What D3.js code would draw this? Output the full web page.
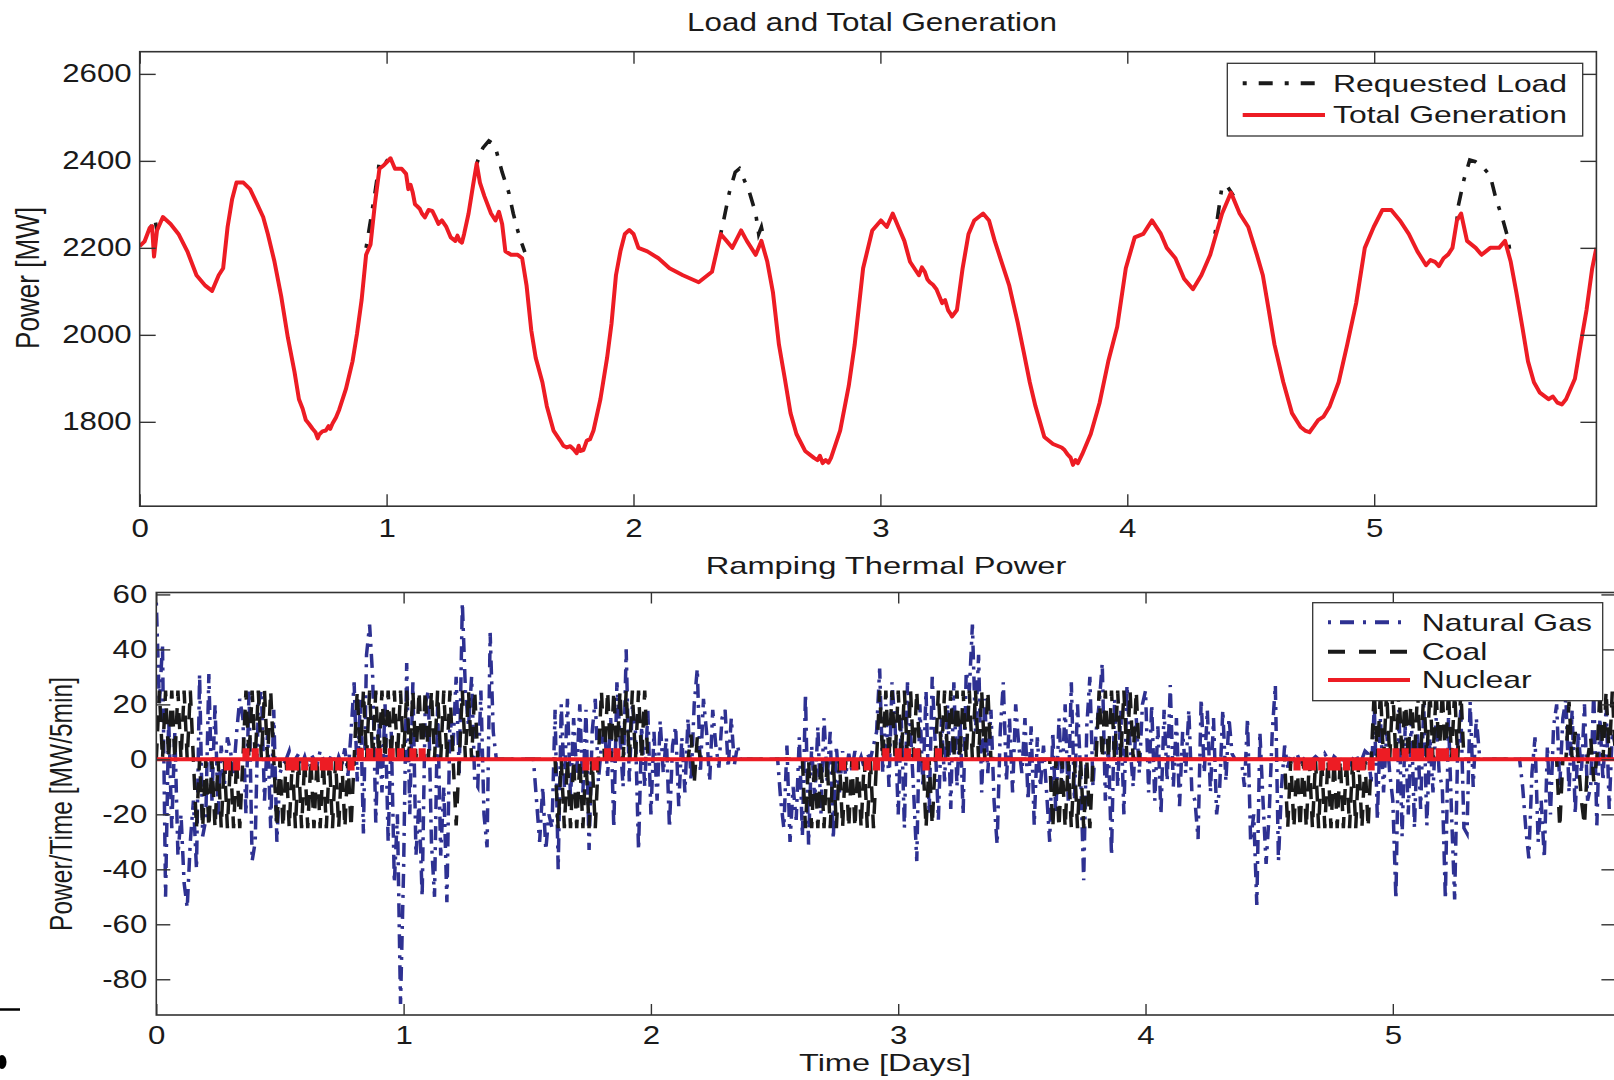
<!DOCTYPE html>
<html>
<head>
<meta charset="utf-8">
<script src="https://cdn.jsdelivr.net/npm/d3@7"></script>
<style>
  body { margin: 0; background: #fff; }
  svg { display: block; font-family: "Liberation Sans", Arial, sans-serif; }
</style>
</head>
<body>
<svg id="chart" width="1614" height="1080"></svg>
<script>
// ---------- data: load and total generation (days, MW) ----------
const loadDays = [0,0.02,0.04,0.05,0.058,0.07,0.094,0.125,0.157,0.193,
  0.23,0.266,0.293,0.32,0.338,0.356,0.374,0.392,0.42,0.447,
  0.474,0.5,0.519,0.546,0.573,0.6,0.627,0.645,0.673,0.7,
  0.727,0.754,0.781,0.808,0.835,0.862,0.88,0.899,0.917,0.935,
  0.953,0.971,0.989,1.016,1.034,1.061,1.079,1.088,1.106,1.125,
  1.143,1.17,1.197,1.224,1.242,1.26,1.278,1.296,1.314,1.332,
  1.35,1.365,1.378,1.396,1.423,1.441,1.455,1.468,1.481,1.504,
  1.531,1.549,1.567,1.586,1.604,1.631,1.649,1.676,1.703,1.73,
  1.757,1.784,1.811,1.838,1.866,1.893,1.911,1.929,1.947,1.965,
  1.983,2.0,2.02,2.056,2.101,2.146,2.2,2.264,2.318,2.353,
  2.377,2.4,2.436,2.459,2.495,2.518,2.542,2.565,2.589,2.613,
  2.636,2.66,2.695,2.731,2.766,2.8,2.837,2.872,2.896,2.93,
  2.967,3.002,3.026,3.05,3.073,3.097,3.12,3.156,3.18,3.2,
  3.227,3.25,3.274,3.29,3.31,3.333,3.357,3.38,3.416,3.44,
  3.463,3.486,3.522,3.557,3.58,3.605,3.628,3.664,3.699,3.734,
  3.758,3.78,3.817,3.852,3.888,3.923,3.959,3.994,4.03,4.065,
  4.1,4.136,4.16,4.195,4.23,4.266,4.3,4.336,4.36,4.384,
  4.42,4.455,4.49,4.525,4.549,4.573,4.596,4.632,4.667,4.702,
  4.738,4.773,4.82,4.856,4.891,4.927,4.962,4.998,5.033,5.069,
  5.104,5.14,5.175,5.21,5.246,5.281,5.317,5.335,5.352,5.376,
  5.411,5.435,5.47,5.506,5.53,5.553,5.576,5.6,5.623,5.647,
  5.671,5.706,5.742,5.777,5.813,5.836,5.86,5.883,5.9];

const totalGeneration = [2204,2215,2245,2250,2180,2240,2271,2255,2232,2192,
  2137,2113,2101,2137,2153,2248,2311,2350,2350,2335,
  2303,2271,2232,2168,2089,1994,1915,1852,1804,1784,
  1771,1780,1796,1828,1875,1939,2002,2081,2184,2208,
  2303,2382,2390,2406,2382,2382,2370,2335,2327,2295,
  2279,2287,2271,2263,2248,2224,2216,2216,2232,2279,
  2343,2394,2350,2319,2279,2263,2283,2255,2192,2184,
  2184,2176,2113,2010,1947,1891,1836,1780,1757,1741,
  1737,1733,1757,1780,1852,1947,2026,2137,2192,2232,
  2241,2232,2200,2192,2176,2153,2137,2121,2145,2232,
  2216,2200,2240,2216,2184,2216,2168,2097,1978,1899,
  1820,1772,1733,1717,1705,1717,1780,1883,1978,2153,
  2240,2263,2248,2279,2248,2216,2168,2137,2145,2121,
  2105,2073,2057,2042,2057,2153,2232,2263,2279,2263,
  2216,2176,2113,2026,1962,1891,1836,1765,1749,1741,
  1725,1701,1725,1772,1844,1939,2018,2153,2224,2232,
  2263,2232,2200,2176,2129,2105,2137,2184,2232,2279,
  2327,2279,2248,2184,2137,2057,1978,1891,1820,1788,
  1776,1804,1836,1891,1978,2073,2200,2248,2287,2287,
  2263,2232,2192,2160,2168,2176,2200,2263,2279,2216,
  2200,2184,2200,2200,2216,2168,2097,2018,1939,1891,
  1867,1852,1844,1852,1899,1978,2057,2153,2200];

// extra readings where the generation curve is ragged (merged in by day)
const wiggleDays = [0.66,0.686,0.712,0.721,0.74,0.765,0.772,0.795,
  1.097,1.115,1.134,1.155,1.185,1.21,1.287,1.305,
  1.716,1.744,1.77,1.778,1.797,1.824,
  2.745,2.755,2.778,2.79,
  3.168,3.19,3.213,3.238,3.262,3.282,
  3.746,3.77,3.79,3.8,
  4.72,4.756,4.795,
  5.228,5.262,5.3,
  5.724,5.76];
const wiggleMW = [1830,1795,1776,1762,1778,1790,1784,1810,
  2345,2300,2290,2270,2285,2255,2228,2212,
  1745,1744,1728,1745,1735,1760,
  1712,1722,1712,1706,
  2155,2128,2115,2090,2080,2050,
  1735,1718,1712,1705,
  1780,1790,1812,
  2172,2158,2185,
  1858,1840];

// requested load only where it leaves the generation curve (null = gap)
const requestedDays = [0.04,0.045,0.061,0.07,null,
  0.917,0.935,0.953,0.971,0.985,1.0,null,
  1.365,1.39,1.414,1.43,1.441,1.468,1.495,1.513,1.531,1.549,1.56,null,
  2.353,2.365,2.388,2.412,2.429,2.447,2.47,2.495,2.507,2.518,2.53,null,
  4.355,4.36,4.384,4.408,4.43,null,
  5.335,5.34,5.364,5.387,5.41,5.446,5.47,5.494,5.518,5.541,5.553];
const requestedLoad = [2245,2248,2267,2240,null,
  2200,2263,2327,2398,2406,2400,null,
  2394,2430,2446,2440,2430,2374,2327,2279,2240,2208,2190,null,
  2232,2263,2327,2374,2382,2358,2327,2279,2232,2248,2216,null,
  2232,2248,2343,2339,2320,null,
  2263,2295,2358,2402,2398,2382,2366,2311,2271,2224,2180];

// ---------- data: ramping (MW/5min), one value every rampStep days ----------
const rampStep = 0.0125;
const gasRamp = [
  57,20,42,-50,15,-25,10,-35,   -20,-45,-54,-30,-15,-40,31,-28,
  -22,31,-15,20,-20,5,-10,8,    3,-5,10,22,15,-20,25,-37,
  -30,20,25,-15,10,-25,18,-30,  -5,-2,0,3,-3,0,2,-2,
  1,-3,2,0,-2,3,0,-1,           0,2,-3,1,-2,4,-6,10,
  28,-8,22,-27,38,49,30,-23,    15,-12,20,-30,10,-45,-20,-89,
  -40,35,-20,28,-35,-15,-50,20, 25,-30,-50,20,-35,-10,-52,15,
  5,30,-5,57,25,12,30,-8,       -10,25,-20,-32,46,10,0,0,
  0,0,0,0,0,0,0,0,              0,0,0,-15,-30,-10,-33,-20,
  -25,18,-40,20,-10,22,-15,15,  -5,20,-12,18,-33,10,22,-8,
  5,12,-6,15,-25,28,8,-10,      40,-8,20,10,-33,12,-10,18,
  -20,10,-15,14,-5,8,-25,5,     12,-17,8,-12,15,-8,20,33,
  -5,22,10,-8,18,5,-3,15,       18,-3,15,-2,5,0,0,0,
  0,0,0,0,0,0,0,0,              0,0,-15,-25,5,-30,-10,-22,
  8,-28,24,-31,5,-15,12,-20,    15,-8,10,-29,5,-12,3,-6,
  2,-4,3,-2,1,-3,2,0,           5,10,33,-5,20,-10,28,12,
  -20,15,-25,28,10,-12,-37,20,  -10,25,-20,30,5,-22,15,-8,
  20,-18,28,-10,15,-20,32,25,   49,10,38,-12,22,-5,18,-15,
  -31,10,28,-8,15,-12,20,5,     -5,15,-15,12,-24,8,-10,5,
  -12,-30,10,-20,15,-8,20,-15,  28,-15,20,-5,-44,12,30,-10,
  10,20,35,-15,5,-35,22,-10,    18,-20,27,5,-10,15,-5,20,
  25,-12,20,-15,12,-20,18,-8,   27,-10,15,-17,10,-5,18,-12,
  -15,-29,22,-5,18,-12,15,-20,  -10,18,-8,15,2,0,0,0,
  -10,15,-30,-20,-53,10,-15,-38, -20,10,27,-37,-10,5,-3,2,
  0,2,-1,0,1,-2,0,1,            0,-1,2,0,-2,1,0,-1,
  1,0,-2,0,2,-1,0,3,            2,-8,20,-22,15,-12,10,-5,
  -15,-51,18,-28,12,-20,15,-25, 10,-18,20,-24,8,-12,15,-5,
  -10,-51,15,-20,-51,5,18,-25,  -27,21,-10,15,2,0,0,0,
  0,0,0,0,0,0,0,0,              0,0,-10,-25,-36,-5,8,-30,
  -15,-36,5,-20,12,20,-10,15,   22,-12,18,-20,10,-5,20,-15,
  -10,25,-24,15,-8,20,-18,10,   5];

const coalRamp = [
  0,25,0,25,0,25,0,25,          0,25,0,25,0,-25,0,-25,
  0,-25,0,-25,0,-25,0,-25,      0,-25,0,-25,0,25,0,25,
  0,25,0,25,0,25,0,-25,         0,-25,0,-25,0,-25,0,-25,
  0,-25,0,-25,0,-25,0,-25,      0,-25,0,-25,0,-25,0,-25,
  0,25,0,25,0,25,0,25,          0,25,0,25,0,25,0,25,
  0,25,0,25,0,25,0,25,          0,25,0,25,0,25,0,25,
  0,-24,0,25,0,25,0,25,         0,0,0,0,0,0,0,0,
  0,0,0,0,0,0,0,0,              0,0,0,0,0,0,0,0,
  0,0,-25,0,-25,0,-25,0,        -25,0,-25,0,-25,0,-25,0,
  25,0,25,0,25,0,25,0,          25,0,25,0,25,0,25,0,
  0,0,0,0,0,0,0,0,              0,0,0,0,0,9,-9,8,
  0,0,0,0,0,0,0,0,              0,0,0,0,0,0,0,0,
  0,0,0,0,0,0,0,0,              0,0,0,0,0,0,0,0,
  0,0,-25,0,-25,0,-25,0,        -25,0,-25,0,-25,0,-25,0,
  -25,0,-25,0,-25,0,-25,0,      -25,0,25,0,25,0,25,0,
  25,0,25,0,25,0,25,0,          0,-25,0,-24,0,25,0,25,
  0,25,0,25,0,25,0,25,          0,25,0,25,0,25,0,0,
  0,0,0,0,0,0,0,0,              0,0,0,0,0,0,0,0,
  0,0,-25,0,-25,0,-25,0,        -25,0,-25,0,-25,0,-25,0,
  0,25,0,25,0,25,0,25,          0,25,0,25,0,25,0,0,
  0,0,0,0,0,0,0,0,              0,0,0,0,0,0,0,0,
  0,0,0,0,0,0,0,0,              0,0,0,0,0,0,0,0,
  0,0,0,0,0,0,0,0,              0,0,0,0,0,0,-25,0,
  -25,0,-25,0,-25,0,-25,0,      -25,0,-25,0,-25,0,-25,0,
  -25,0,-25,0,-25,0,-25,0,      -25,0,25,0,25,0,25,0,
  25,0,25,0,25,0,25,0,          25,0,25,0,25,0,25,0,
  25,0,25,0,25,0,25,0,          0,0,0,0,0,0,0,0,
  0,0,0,0,0,0,0,0,              0,0,0,0,0,0,0,0,
  0,0,0,0,0,0,-25,0,            0,21,0,10,0,-15,-24,0,
  8,-8,0,25,0,25,0,25,          0];

// nuclear stays at 0 except for these small steps
const nuclearDays = [0.2875,0.325,0.3625,0.4,0.5375,0.5625,0.6,0.6375,0.675,0.7,0.7375,0.7875,
  0.825,0.8625,0.9,0.95,0.9875,1.0375,1.075,1.7375,1.775,1.825,1.8625,
  2.775,2.825,2.875,2.9125,2.95,3.0,3.0375,3.075,3.1125,3.1625,
  4.6125,4.65,4.675,4.7125,4.75,4.775,4.8125,4.85,4.875,4.9125,
  4.95,4.975,5.0125,5.05,5.0875,5.1125,5.15,5.1875,5.2125,5.25];
const nuclearSteps = [-3.3,-3.3,3.3,3.3,-3.3,-3.3,-3.3,-3.3,-3.3,-3.3,-3.3,-3.3,
  3.3,3.3,3.3,3.3,3.3,3.3,3.3,-3.3,-3.3,3.3,3.3,
  -3.3,-3.3,-3.3,-3.3,3.3,3.3,3.3,3.3,-3.3,3.3,
  -3.3,-3.3,-3.3,-3.3,-3.3,-3.3,-3.3,-3.3,-3.3,-3.3,
  3.3,3.3,3.3,3.3,3.3,3.3,3.3,3.3,3.3,3.3];

const dayTicks = [0, 1, 2, 3, 4, 5];
const loadTicks = [1800, 2000, 2200, 2400, 2600];
const rampTicks = [-80, -60, -40, -20, 0, 20, 40, 60];

// ---------- drawing ----------
const RED = "#ed1c24", BLUE = "#2e3192", BLACK = "#1a1a1a", AXIS = "#333";
const svg = d3.select("#chart");

// the source figure is stretched sideways, so widen text around its anchor
function widen(sel, s) {
  sel.each(function () {
    const t = d3.select(this);
    const x = +t.attr("x") || 0;
    const prev = t.attr("transform") || "";
    t.attr("transform", `${prev} translate(${x * (1 - s)},0) scale(${s},1)`);
  });
}

function addText(str, x, y, size, width) {
  const t = svg.append("text")
    .attr("x", x).attr("y", y)
    .attr("text-anchor", "middle")
    .attr("font-size", size)
    .attr("fill", BLACK)
    .text(str);
  widen(t, width / t.node().getComputedTextLength());
}

// rotated label: length along the text, thickened across it
function addYLabel(str, x, y, size, length, across) {
  const t = svg.append("text")
    .attr("text-anchor", "middle")
    .attr("font-size", size)
    .attr("fill", BLACK)
    .text(str);
  const s = length / t.node().getComputedTextLength();
  t.attr("transform", `translate(${x},${y}) rotate(-90) scale(${s},${across})`);
}

function drawAxes(box, x, y, yTicks, ySize, xSize, yPad, xPad) {
  const g = svg.append("g");
  const fmt = (d) => String(d);
  const style = (a) => {
    a.select(".domain").remove();
    a.selectAll("line").attr("stroke", AXIS).attr("stroke-width", 1.4);
    a.selectAll("text").attr("fill", BLACK).attr("font-size", 25)
      .attr("font-family", '"Liberation Sans", Arial, sans-serif');
  };
  g.append("g").attr("transform", `translate(${box.left},0)`)
    .call(d3.axisLeft(y).tickValues(yTicks).tickSize(-ySize).tickPadding(yPad).tickFormat(fmt))
    .call(style);
  g.append("g").attr("transform", `translate(${box.right},0)`)
    .call(d3.axisRight(y).tickValues(yTicks).tickSize(-ySize).tickFormat(""))
    .call(style);
  g.append("g").attr("transform", `translate(0,${box.bottom})`)
    .call(d3.axisBottom(x).tickValues(dayTicks).tickSize(-xSize).tickPadding(xPad).tickFormat(fmt))
    .call(style);
  g.append("g").attr("transform", `translate(0,${box.top})`)
    .call(d3.axisTop(x).tickValues(dayTicks).tickSize(-xSize).tickFormat(""))
    .call(style);
  g.selectAll("text").call(widen, 1.25);
  g.append("rect")
    .attr("x", box.left).attr("y", box.top)
    .attr("width", box.right - box.left).attr("height", box.bottom - box.top)
    .attr("fill", "none").attr("stroke", AXIS).attr("stroke-width", 1.6);
}

function clipFor(id, box) {
  svg.append("clipPath").attr("id", id).append("rect")
    .attr("x", box.left).attr("y", box.top)
    .attr("width", box.right - box.left).attr("height", box.bottom - box.top);
  return svg.append("g").attr("clip-path", `url(#${id})`);
}

function legend(box, rows, x1, x2, tx) {
  const g = svg.append("g");
  g.append("rect")
    .attr("x", box.left).attr("y", box.top)
    .attr("width", box.right - box.left).attr("height", box.bottom - box.top)
    .attr("fill", "#fff").attr("stroke", AXIS).attr("stroke-width", 1.3);
  rows.forEach((r) => {
    g.append("line")
      .attr("x1", x1).attr("x2", x2).attr("y1", r.y).attr("y2", r.y)
      .attr("stroke", r.color).attr("stroke-width", 4)
      .attr("stroke-dasharray", r.dash);
    const t = g.append("text")
      .attr("x", tx).attr("y", r.y + 8.5)
      .attr("font-size", 24).attr("fill", BLACK)
      .text(r.label);
    widen(t, 1.33);
  });
}

// ----- top panel: Load and Total Generation -----
const topBox = { left: 139.7, right: 1596.4, top: 51.7, bottom: 506.2 };
const xTop = d3.scaleLinear().domain([0, 5.9]).range([topBox.left, topBox.right]);
const yTop = d3.scaleLinear().domain([1606, 2651]).range([topBox.bottom, topBox.top]);

const genPts = loadDays.map((d, i) => [d, totalGeneration[i]])
  .concat(wiggleDays.map((d, i) => [d, wiggleMW[i]]))
  .sort((a, b) => a[0] - b[0]);

const topPlot = clipFor("clipTop", topBox);
const reqPts = requestedDays.map((d, i) => [d, requestedLoad[i]]);
topPlot.append("path")
  .datum(reqPts)
  .attr("d", d3.line().defined((d) => d[0] != null)
    .x((d) => xTop(d[0])).y((d) => yTop(d[1])))
  .attr("fill", "none").attr("stroke", BLACK).attr("stroke-width", 3.6)
  .attr("stroke-dasharray", "4,11,14,11");
topPlot.append("path")
  .datum(genPts)
  .attr("d", d3.line().x((d) => xTop(d[0])).y((d) => yTop(d[1])))
  .attr("fill", "none").attr("stroke", RED).attr("stroke-width", 4)
  .attr("stroke-linejoin", "round");

drawAxes(topBox, xTop, yTop, loadTicks, 16, 12, 8, 13);
addText("Load and Total Generation", 872, 30.7, 25, 370);
addYLabel("Power [MW]", 38.5, 278, 26, 142, 1.25);
legend({ left: 1227.3, right: 1582.7, top: 63.3, bottom: 136 }, [
  { label: "Requested Load", color: BLACK, dash: "4,12,14,12", y: 83.3 },
  { label: "Total Generation", color: RED, dash: null, y: 115 },
], 1242.7, 1325, 1333);

// ----- bottom panel: Ramping Thermal Power -----
const botBox = { left: 156.3, right: 1615.4, top: 592.5, bottom: 1015 };
const xBot = d3.scaleLinear().domain([0, 5.9]).range([botBox.left, botBox.right]);
const yBot = d3.scaleLinear().domain([-93, 60.7]).range([botBox.bottom, botBox.top]);

const rampDays = d3.range(gasRamp.length).map((i) => i * rampStep);
const nuclearRamp = rampDays.map(() => 0);
nuclearDays.forEach((d, k) => { nuclearRamp[Math.round(d / rampStep)] = nuclearSteps[k]; });

const rampLine = d3.line().x((d, i) => xBot(rampDays[i])).y((d) => yBot(d));
const botPlot = clipFor("clipBot", botBox);
botPlot.append("path").datum(gasRamp).attr("d", rampLine)
  .attr("fill", "none").attr("stroke", BLUE).attr("stroke-width", 3.5)
  .attr("stroke-dasharray", "3,7,14,7");
botPlot.append("path").datum(coalRamp).attr("d", rampLine)
  .attr("fill", "none").attr("stroke", BLACK).attr("stroke-width", 3.5)
  .attr("stroke-dasharray", "16,12");
botPlot.append("path").datum(nuclearRamp).attr("d", rampLine.curve(d3.curveStep))
  .attr("fill", "none").attr("stroke", RED).attr("stroke-width", 4);

drawAxes(botBox, xBot, yBot, rampTicks, 14, 11, 9, 11);
addText("Ramping Thermal Power", 886, 574, 24, 361);
addText("Time [Days]", 885, 1071.5, 23, 172);
addYLabel("Power/Time [MW/5min]", 71.5, 804, 24.5, 254, 1.25);
legend({ left: 1312.7, right: 1602.7, top: 602.7, bottom: 700.7 }, [
  { label: "Natural Gas", color: BLUE, dash: "3,9,14,9", y: 622.3 },
  { label: "Coal", color: BLACK, dash: "17,14", y: 651.7 },
  { label: "Nuclear", color: RED, dash: null, y: 680 },
], 1328, 1410, 1421.7);

// stray marks at the lower left edge of the source figure
svg.append("line").attr("x1", 0).attr("x2", 20).attr("y1", 1009.5).attr("y2", 1009.5)
  .attr("stroke", "#000").attr("stroke-width", 2.5);
svg.append("ellipse").attr("cx", 2).attr("cy", 1062).attr("rx", 4.5).attr("ry", 7).attr("fill", "#000");
</script>
</body>
</html>
